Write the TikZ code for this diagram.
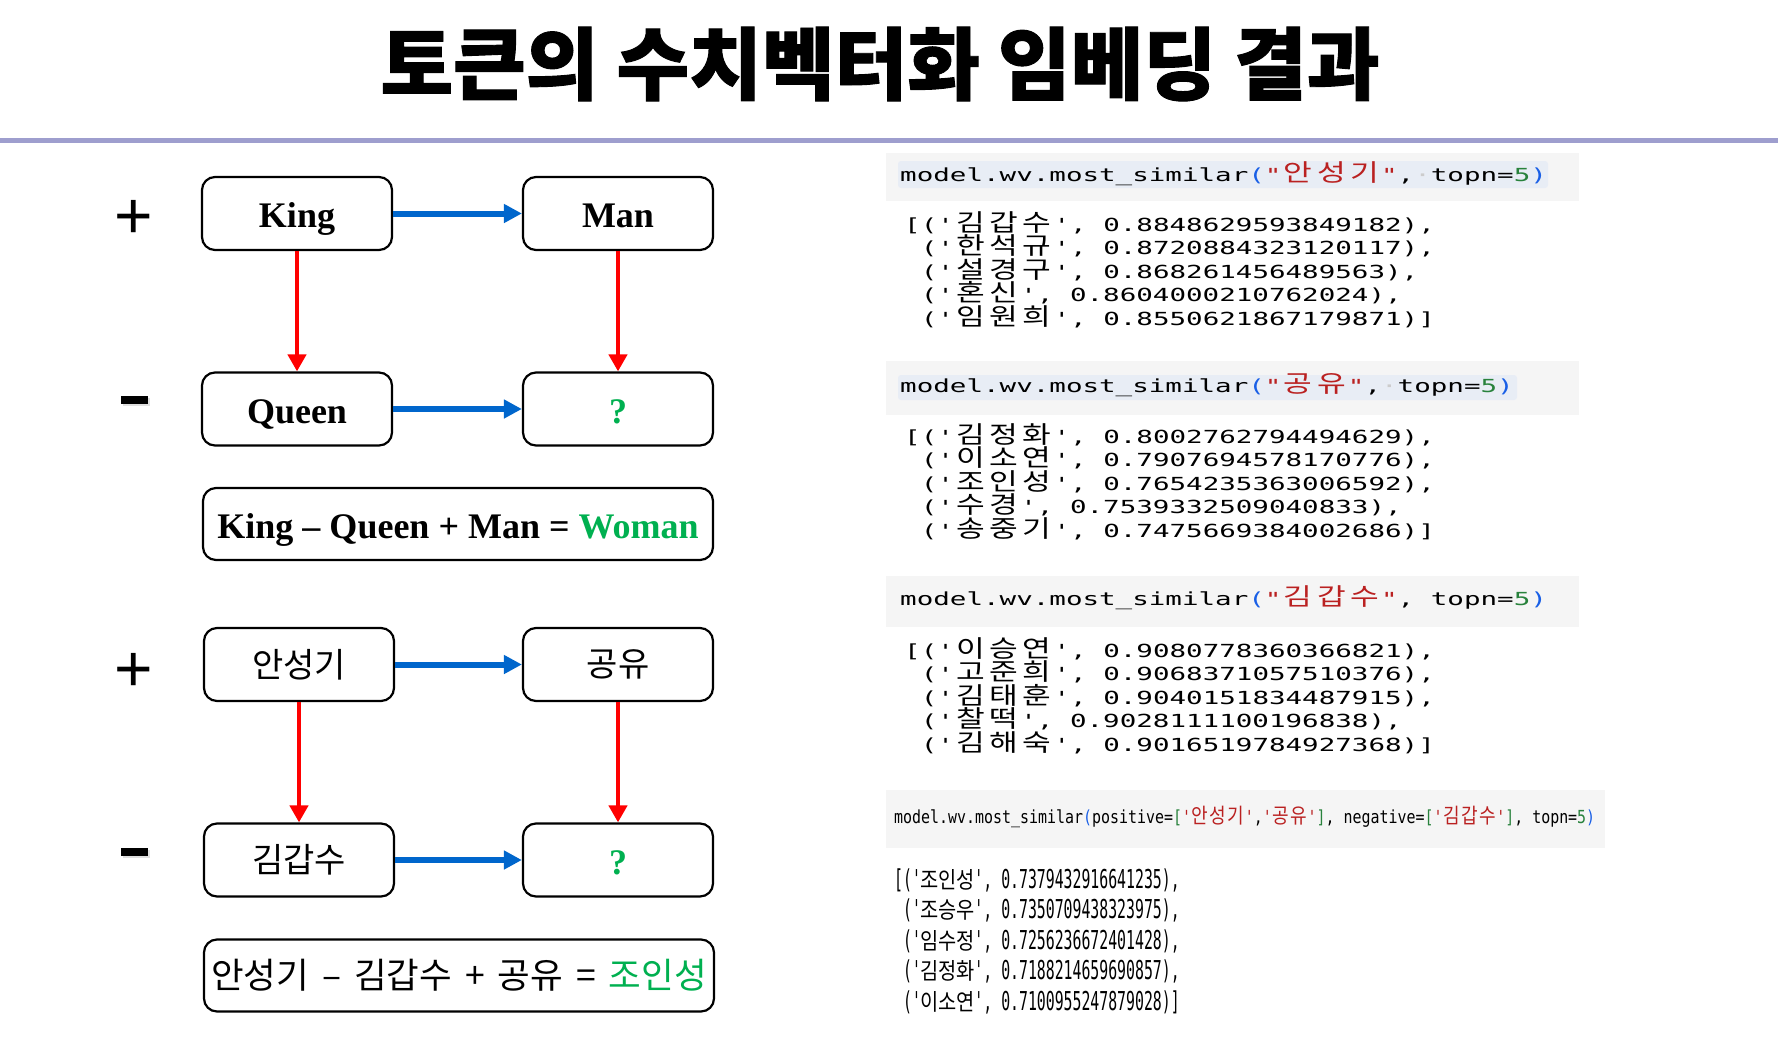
\documentclass[tikz,border=0pt]{standalone}
\usepackage{fontspec}
\usetikzlibrary{arrows.meta,shadows}
\setmainfont{Liberation Serif}
\newfontfamily\kofont{Noto Sans CJK KR}
\newfontfamily\titlefont{Noto Sans CJK KR}[FakeBold=1.2]
\newfontfamily\signfont{Liberation Sans}
\newfontfamily\codewide{DejaVu Sans Mono}[FakeStretch=1.53,Ligatures=TeXOff]
\newfontfamily\codenarrow{DejaVu Sans Mono}[FakeStretch=0.83,Ligatures=TeXOff]
\newfontfamily\outnarrow{DejaVu Sans Mono}[FakeStretch=0.57,Ligatures=TeXOff]
\newfontfamily\kowide{Noto Sans CJK KR}[FakeStretch=1.3]
\newfontfamily\konarrow{Noto Sans CJK KR}[FakeStretch=0.86]

\definecolor{rulecol}{RGB}{158,158,206}
\definecolor{okgreen}{RGB}{0,176,80}
\definecolor{arrowblue}{RGB}{0,102,204}
\definecolor{codebg}{RGB}{245,245,245}
\definecolor{codesel}{RGB}{232,237,245}
\definecolor{codered}{RGB}{186,33,33}
\definecolor{codeblue}{RGB}{25,95,230}
\definecolor{codegreen}{RGB}{40,130,60}

% one Korean syllable = two columns of the code font
\newlength\colw
\newcommand\kosel{}
\newcommand\ko[1]{\kostep#1\relax}
\def\kostep#1{\ifx\relax#1\else\makebox[2\colw]{\kosel#1}\expandafter\kostep\fi}
\newcommand\kowidesize{\kowide\fontsize{24}{24}\selectfont}
\newcommand\konarrowsize{\konarrow\fontsize{21}{21}\selectfont}
\newcommand\kooutsize{\konarrow\fontsize{23}{23}\selectfont}
\newcommand\op[1]{\hspace{13pt}#1\hspace{13pt}}

\tikzset{
  wordbox/.style={draw, line width=2.2pt, rounded corners=13pt, minimum width=190pt,
    minimum height=73pt, inner sep=0pt, text height=28pt, text depth=0pt,
    font=\fontsize{36}{36}\selectfont\bfseries},
  kobox/.style={draw, line width=2.2pt, rounded corners=13pt, minimum width=190pt,
    minimum height=73pt, inner sep=0pt, font=\kofont\fontsize{34}{34}\selectfont},
  eqbox/.style={draw, line width=2.2pt, rounded corners=13pt, minimum width=510pt,
    minimum height=72pt, inner sep=0pt, text height=28pt, text depth=0pt,
    font=\fontsize{36}{36}\selectfont\bfseries},
  sign/.style={inner sep=0pt, font=\signfont\fontsize{66}{66}\selectfont},
  minusbar/.style={fill=black, minimum width=27pt, minimum height=8pt, inner sep=0pt,
    drop shadow={shadow xshift=2pt, shadow yshift=-2pt, opacity=0.25}},
  barrow/.style={draw=arrowblue, line width=6pt, -{Triangle[length=18pt,width=18pt]}},
  rarrow/.style={draw=red, line width=4.5pt, -{Triangle[length=17pt,width=18pt]}},
  code/.style={anchor=base west, inner sep=0pt, font=\codewide\fontsize{18}{18}\selectfont,
    execute at begin node={\setlength\colw{16.6pt}\let\kosel\kowidesize}},
  coden/.style={anchor=base west, inner sep=0pt, font=\codenarrow\fontsize{18}{18}\selectfont,
    execute at begin node={\setlength\colw{8.96pt}\let\kosel\konarrowsize}},
  outn/.style={anchor=base west, inner sep=0pt, font=\outnarrow\fontsize{26}{26}\selectfont,
    execute at begin node={\setlength\colw{8.92pt}\let\kosel\kooutsize}},
}

\begin{document}
\begin{tikzpicture}[x=1pt,y=-1pt]
\useasboundingbox (0,0) rectangle (1778,1047);
\fill[white] (0,0) rectangle (1778,1047);

% title
\node[font=\titlefont\bfseries\fontsize{79}{79}\selectfont] (title) at (880,64) {토큰의 수치벡터화 임베딩 결과};
\draw[rulecol, line width=4.5pt] (0,140.5) -- (1778,140.5);

% King - Queen + Man
\node[sign] (plusA) at (133.5,219.5) {+};
\node[minusbar] (minusA) at (134,400) {};
\node[wordbox] (king) at (297,213.5) {King};
\node[wordbox] (man) at (618,213.5) {Man};
\node[wordbox] (queen) at (297,409) {Queen};
\node[wordbox, text=okgreen] (askA) at (618,409) {?};
\node[eqbox] (eqA) at (458,524) {King \textendash{} Queen + Man = \textcolor{okgreen}{Woman}};
\draw[barrow] (king) -- (man);
\draw[barrow] (queen) -- (askA);
\draw[rarrow] (king) -- (queen);
\draw[rarrow] (man) -- (askA);

% 안성기 - 김갑수 + 공유
\node[sign] (plusB) at (134,672) {+};
\node[minusbar] (minusB) at (134,852) {};
\node[kobox] (ahn) at (299,664.5) {안성기};
\node[kobox] (gong) at (618,664.5) {공유};
\node[kobox] (kim) at (299,860) {김갑수};
\node[wordbox, text=okgreen] (askB) at (618,860) {?};
\node[kobox, minimum width=510pt, minimum height=72pt, font=\kofont\fontsize{35.5}{35.5}\selectfont] (eqB) at (459,975.5) {안성기\op{–}김갑수\op{+}공유\op{=}\textcolor{okgreen}{조인성}};
\draw[barrow] (ahn) -- (gong);
\draw[barrow] (kim) -- (askB);
\draw[rarrow] (ahn) -- (kim);
\draw[rarrow] (gong) -- (askB);

% code cells
\fill[codebg] (886,153) rectangle (1579,201);
\fill[codesel, rounded corners=3pt] (898,161) rectangle (1548,188);
\node[code] (cellA) at (900,181) {model.wv.most\_similar\textcolor{codeblue}{(}\textcolor{codered}{"\ko{안성기}"},\textcolor{gray!40}{·}topn=\textcolor{codegreen}{5}\textcolor{codeblue}{)}};
\node[code] (outA1) at (904,231) {[('\ko{김갑수}', 0.8848629593849182),};
\node[code] (outA2) at (904,254.5) {~('\ko{한석규}', 0.8720884323120117),};
\node[code] (outA3) at (904,278) {~('\ko{설경구}', 0.868261456489563),};
\node[code] (outA4) at (904,301.5) {~('\ko{혼신}', 0.8604000210762024),};
\node[code] (outA5) at (904,325) {~('\ko{임원희}', 0.8550621867179871)]};

\fill[codebg] (886,361) rectangle (1579,415);
\fill[codesel, rounded corners=3pt] (898,375) rectangle (1517,400);
\node[code] (cellB) at (900,392) {model.wv.most\_similar\textcolor{codeblue}{(}\textcolor{codered}{"\ko{공유}"},\textcolor{gray!40}{·}topn=\textcolor{codegreen}{5}\textcolor{codeblue}{)}};
\node[code] (outB1) at (904,443) {[('\ko{김정화}', 0.8002762794494629),};
\node[code] (outB2) at (904,466.5) {~('\ko{이소연}', 0.7907694578170776),};
\node[code] (outB3) at (904,490) {~('\ko{조인성}', 0.7654235363006592),};
\node[code] (outB4) at (904,513.5) {~('\ko{수경}', 0.7539332509040833),};
\node[code] (outB5) at (904,537) {~('\ko{송중기}', 0.7475669384002686)]};

\fill[codebg] (886,576) rectangle (1579,627);
\node[code] (cellC) at (900,605) {model.wv.most\_similar\textcolor{codeblue}{(}\textcolor{codered}{"\ko{김갑수}"}, topn=\textcolor{codegreen}{5}\textcolor{codeblue}{)}};
\node[code] (outC1) at (904,657) {[('\ko{이승연}', 0.9080778360366821),};
\node[code] (outC2) at (904,680.5) {~('\ko{고준희}', 0.9068371057510376),};
\node[code] (outC3) at (904,704) {~('\ko{김태훈}', 0.9040151834487915),};
\node[code] (outC4) at (904,727.5) {~('\ko{찰떡}', 0.9028111100196838),};
\node[code] (outC5) at (904,751) {~('\ko{김해숙}', 0.9016519784927368)]};

\fill[codebg] (886,790) rectangle (1605,848);
\node[coden] (cellD) at (894,823) {model.wv.most\_similar\textcolor{codeblue}{(}positive=\textcolor{codegreen}{[}\textcolor{codered}{'\ko{안성기}'},\textcolor{codered}{'\ko{공유}'}\textcolor{codegreen}{]}, negative=\textcolor{codegreen}{[}\textcolor{codered}{'\ko{김갑수}'}\textcolor{codegreen}{]}, topn=\textcolor{codegreen}{5}\textcolor{codeblue}{)}};
\node[outn] (outD1) at (894,888) {[('\ko{조인성}', 0.7379432916641235),};
\node[outn] (outD2) at (894,918.6) {~('\ko{조승우}', 0.7350709438323975),};
\node[outn] (outD3) at (894,949.2) {~('\ko{임수정}', 0.7256236672401428),};
\node[outn] (outD4) at (894,979.8) {~('\ko{김정화}', 0.7188214659690857),};
\node[outn] (outD5) at (894,1010.4) {~('\ko{이소연}', 0.7100955247879028)]};
\end{tikzpicture}
\end{document}
